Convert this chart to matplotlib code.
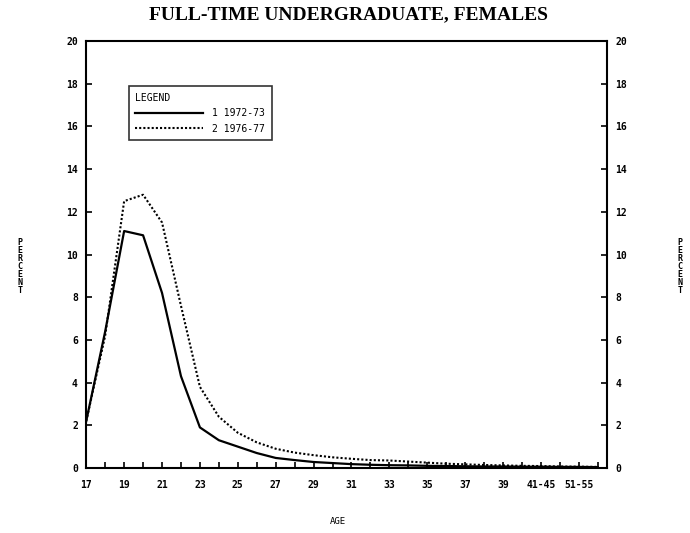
import matplotlib
matplotlib.use('Agg')
import matplotlib.pyplot as plt

# age categories on the x axis
ages = [str(a) for a in range(17, 41)] + ['41-45', '46-50', '51-55', '56-60']
tick_labels = [a if i % 2 == 0 else '' for i, a in enumerate(ages)]

# percent of full-time undergraduate females
pct_1972 = [2.2, 6.4, 11.1, 10.9, 8.2, 4.3, 1.9, 1.3, 1.0, 0.7, 0.47, 0.37, 0.28, 0.23,
            0.18, 0.15, 0.13, 0.12, 0.1, 0.09, 0.08, 0.07, 0.07, 0.06, 0.06, 0.05, 0.05, 0.04]
pct_1976 = [2.2, 6.2, 12.5, 12.8, 11.5, 7.6, 3.8, 2.4, 1.65, 1.2, 0.9, 0.72, 0.6, 0.5,
            0.43, 0.37, 0.35, 0.3, 0.25, 0.2, 0.17, 0.14, 0.12, 0.1, 0.09, 0.07, 0.06, 0.05]
series_names = ['1 1972-73', '2 1976-77']

mono = 'DejaVu Sans Mono'

fig = plt.figure(figsize=(6.9, 5.33), dpi=100)
ax = fig.add_axes([0.125, 0.122, 0.755, 0.801])

x = list(range(len(ages)))
ax.plot(x, pct_1972, color='black', lw=1.6, label=series_names[0])
ax.plot(x, pct_1976, color='black', lw=1.5, linestyle=(0, (1, 1)), label=series_names[1])

ax.set_xlim(0, 27.5)
ax.set_ylim(0, 20)
ax.set_xticks(x)
ax.set_xticklabels(tick_labels)
ax.set_yticks(range(0, 21, 2))
ax.tick_params(axis='both', direction='in', length=4, width=1.2, labelsize=7, pad=6)
ax.tick_params(axis='x', pad=9)
ax.tick_params(axis='y', right=True, labelright=True)
for lab in ax.get_xticklabels() + ax.get_yticklabels():
    lab.set_family(mono)
    lab.set_fontweight('bold')
for s in ax.spines.values():
    s.set_linewidth(1.5)

leg = ax.legend(title='LEGEND', loc='upper left', bbox_to_anchor=(0.072, 0.906),
                frameon=True, fancybox=False, edgecolor='black', handlelength=7,
                borderpad=0.7, labelspacing=0.55, handletextpad=0.9,
                prop={'family': mono, 'size': 7}, alignment='left')
leg.get_title().set_family(mono)
leg.get_title().set_fontsize(7)
leg.get_frame().set_linewidth(1.2)

fig.text(0.505, 0.972, 'FULL-TIME UNDERGRADUATE, FEMALES', ha='center', va='center',
         family='Liberation Serif', fontsize=14, fontweight='bold')
fig.text(0.49, 0.021, 'AGE', ha='center', va='center', family=mono, fontsize=6.5)
for xp in (0.029, 0.985):
    fig.text(xp, 0.5, '\n'.join('PERCENT'), ha='center', va='center', family=mono,
             fontsize=6, fontweight='bold', linespacing=0.85)

fig.savefig('out.png', dpi=100)
